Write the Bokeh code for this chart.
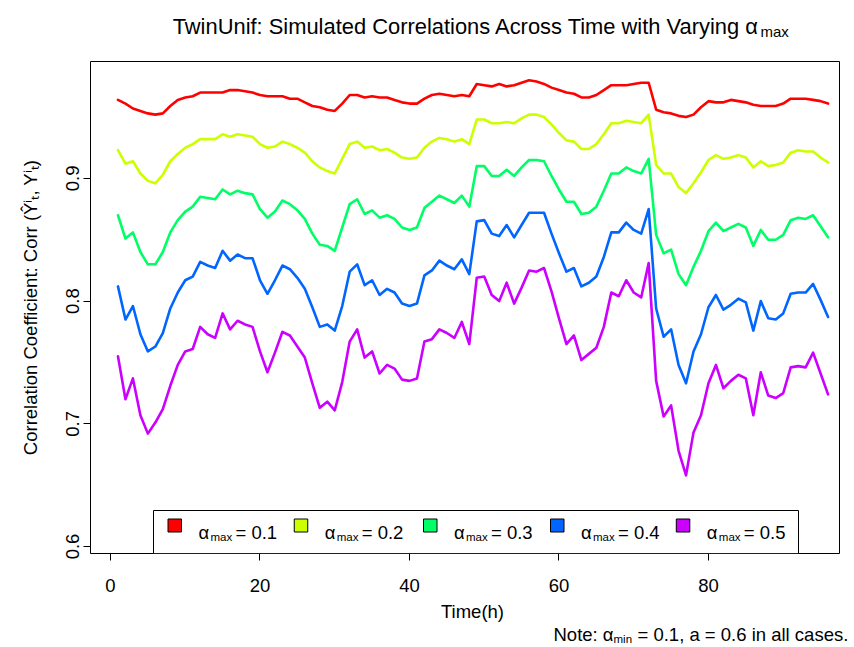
import math
from bokeh.plotting import figure
from bokeh.layouts import column, row
from bokeh.models import Range1d, FixedTicker, Label, BoxAnnotation, ColumnDataSource
from bokeh.embed import file_html
from bokeh.resources import INLINE

# ---------------- data ----------------
hours = list(range(1, 97))

corr_a01 = [0.964, 0.961, 0.957, 0.955, 0.953, 0.952, 0.953, 0.959, 0.964, 0.966,
            0.967, 0.970, 0.970, 0.970, 0.970, 0.972, 0.972, 0.971, 0.970, 0.968,
            0.967, 0.967, 0.967, 0.965, 0.965, 0.962, 0.959, 0.958, 0.956, 0.955,
            0.961, 0.968, 0.968, 0.966, 0.967, 0.966, 0.966, 0.964, 0.962, 0.961,
            0.961, 0.965, 0.968, 0.969, 0.968, 0.967, 0.968, 0.967, 0.977, 0.976,
            0.975, 0.977, 0.975, 0.976, 0.978, 0.980, 0.979, 0.977, 0.974, 0.972,
            0.970, 0.969, 0.966, 0.966, 0.968, 0.972, 0.976, 0.976, 0.976, 0.977,
            0.978, 0.978, 0.956, 0.954, 0.953, 0.951, 0.950, 0.952, 0.958, 0.963,
            0.962, 0.962, 0.964, 0.963, 0.962, 0.960, 0.959, 0.959, 0.959, 0.961,
            0.965, 0.965, 0.965, 0.964, 0.963, 0.961]

corr_a02 = [0.923, 0.912, 0.914, 0.904, 0.898, 0.896, 0.903, 0.914, 0.920, 0.925,
            0.928, 0.932, 0.932, 0.932, 0.936, 0.934, 0.936, 0.935, 0.934, 0.928,
            0.925, 0.926, 0.930, 0.928, 0.925, 0.921, 0.914, 0.909, 0.906, 0.904,
            0.916, 0.928, 0.930, 0.925, 0.926, 0.923, 0.924, 0.921, 0.917, 0.916,
            0.917, 0.925, 0.930, 0.933, 0.932, 0.930, 0.932, 0.928, 0.948, 0.948,
            0.945, 0.945, 0.946, 0.945, 0.949, 0.952, 0.952, 0.950, 0.944, 0.937,
            0.931, 0.930, 0.924, 0.924, 0.928, 0.936, 0.945, 0.945, 0.947, 0.946,
            0.945, 0.952, 0.911, 0.904, 0.904, 0.893, 0.888, 0.896, 0.905, 0.915,
            0.919, 0.916, 0.917, 0.919, 0.917, 0.909, 0.914, 0.910, 0.911, 0.913,
            0.921, 0.923, 0.922, 0.922, 0.917, 0.913]

corr_a03 = [0.870, 0.851, 0.856, 0.840, 0.830, 0.830, 0.840, 0.856, 0.866, 0.873,
            0.877, 0.885, 0.884, 0.883, 0.891, 0.887, 0.890, 0.888, 0.887, 0.875,
            0.868, 0.873, 0.882, 0.879, 0.874, 0.867, 0.855, 0.846, 0.845, 0.841,
            0.860, 0.879, 0.883, 0.871, 0.874, 0.868, 0.870, 0.867, 0.860, 0.858,
            0.860, 0.876, 0.881, 0.886, 0.883, 0.880, 0.886, 0.877, 0.910, 0.910,
            0.902, 0.902, 0.907, 0.902, 0.909, 0.915, 0.915, 0.914, 0.902, 0.891,
            0.881, 0.881, 0.871, 0.872, 0.877, 0.890, 0.904, 0.904, 0.909, 0.906,
            0.904, 0.916, 0.854, 0.839, 0.842, 0.822, 0.813, 0.828, 0.841, 0.857,
            0.864, 0.857, 0.860, 0.863, 0.860, 0.845, 0.858, 0.850, 0.850, 0.854,
            0.866, 0.868, 0.867, 0.870, 0.861, 0.852]

corr_a04 = [0.812, 0.785, 0.796, 0.773, 0.759, 0.763, 0.774, 0.794, 0.807, 0.817,
            0.820, 0.832, 0.829, 0.827, 0.841, 0.833, 0.838, 0.835, 0.835, 0.817,
            0.806, 0.817, 0.829, 0.826, 0.819, 0.810, 0.795, 0.779, 0.781, 0.776,
            0.796, 0.824, 0.830, 0.813, 0.817, 0.805, 0.810, 0.807, 0.798, 0.796,
            0.798, 0.821, 0.825, 0.833, 0.829, 0.826, 0.834, 0.822, 0.865, 0.866,
            0.855, 0.853, 0.862, 0.852, 0.862, 0.872, 0.872, 0.872, 0.855, 0.839,
            0.824, 0.827, 0.812, 0.815, 0.820, 0.836, 0.856, 0.856, 0.864, 0.858,
            0.855, 0.875, 0.794, 0.771, 0.777, 0.748, 0.733, 0.759, 0.773, 0.795,
            0.805, 0.793, 0.797, 0.802, 0.799, 0.776, 0.800, 0.786, 0.785, 0.790,
            0.806, 0.807, 0.807, 0.814, 0.801, 0.787]

corr_a05 = [0.755, 0.720, 0.737, 0.707, 0.692, 0.701, 0.712, 0.731, 0.748, 0.759,
            0.761, 0.779, 0.773, 0.770, 0.790, 0.777, 0.784, 0.781, 0.779, 0.759,
            0.742, 0.758, 0.775, 0.772, 0.763, 0.754, 0.733, 0.713, 0.718, 0.711,
            0.734, 0.767, 0.777, 0.754, 0.759, 0.741, 0.748, 0.745, 0.736, 0.735,
            0.737, 0.767, 0.769, 0.777, 0.774, 0.770, 0.783, 0.765, 0.819, 0.820,
            0.805, 0.800, 0.815, 0.798, 0.811, 0.825, 0.824, 0.827, 0.808, 0.786,
            0.765, 0.772, 0.752, 0.757, 0.762, 0.779, 0.807, 0.804, 0.817, 0.807,
            0.803, 0.831, 0.735, 0.706, 0.715, 0.678, 0.658, 0.693, 0.707, 0.733,
            0.748, 0.729, 0.735, 0.740, 0.737, 0.707, 0.742, 0.723, 0.721, 0.725,
            0.746, 0.747, 0.746, 0.758, 0.741, 0.724]

alpha_max_labels = ["0.1", "0.2", "0.3", "0.4", "0.5"]
series_colors = ["#FF0000", "#CCFF00", "#00FF66", "#0066FF", "#CC00FF"]
x_ticks = [0, 20, 40, 60, 80]
y_ticks = [0.6, 0.7, 0.8, 0.9]

# ---------------- layout (pixels of the whole 854x647 page) ----------------
W, H = 854, 647
TOP_H = 45            # title strip height
MAIN_BOTTOM = 600     # bottom of the main figure
FL, FR, FT, FB = 90, 839, 61, 553          # plot frame edges (page pixels)
X0, X1 = -2.676, 97.53
Y0, Y1 = 0.5943, 0.9953
FONT = "Liberation Sans"
FS = "18.5px"


def dx(px):
    return X0 + (px - FL) * (X1 - X0) / (FR - FL)


def dy(py):
    return Y0 + (FB - py) * (Y1 - Y0) / (FB - FT)


def strip(w, h):
    f = figure(width=w, height=h, output_backend="svg", toolbar_location=None, tools="",
               x_range=Range1d(0, w), y_range=Range1d(h, 0),
               x_axis_location=None, y_axis_location=None, min_border=0,
               background_fill_color="white", border_fill_color="white")
    f.title.visible = False
    f.outline_line_color = None
    for g in f.grid:
        g.visible = False
    return f


def lab(fig, x, y, text, size=FS, align="left"):
    fig.add_layout(Label(x=x, y=y, text=text, text_font=FONT,
                         text_font_size=size, text_color="black",
                         text_align=align, text_baseline="alphabetic"))


# ---- main figure ----
p = figure(width=W, height=MAIN_BOTTOM - TOP_H, output_backend="svg",
           toolbar_location=None, tools="",
           x_range=Range1d(X0, X1), y_range=Range1d(Y0, Y1),
           min_border_left=FL, min_border_right=W - FR,
           min_border_top=FT - TOP_H, min_border_bottom=MAIN_BOTTOM - FB,
           background_fill_color="white", border_fill_color="white")
p.title.visible = False
p.grid.visible = False
p.outline_line_color = "black"
p.outline_line_width = 1
p.outline_line_alpha = 1

for ax in (p.xaxis[0], p.yaxis[0]):
    ax.axis_line_color = None
    ax.major_tick_in = 0
    ax.major_tick_out = 7
    ax.major_tick_line_color = "black"
    ax.minor_tick_line_color = None
    ax.major_label_text_font = FONT
    ax.major_label_text_font_size = FS
    ax.major_label_text_color = "black"

p.xaxis.ticker = FixedTicker(ticks=x_ticks)
p.yaxis.ticker = FixedTicker(ticks=y_ticks)
p.xaxis.major_label_standoff = 18
p.yaxis.major_label_standoff = 4
p.yaxis.major_label_orientation = "vertical"
p.yaxis.axis_label = "Correlation Coefficient: Corr (\u0176\u2071\u209c, Y\u2071\u209c)"
p.yaxis.axis_label_text_font = FONT
p.yaxis.axis_label_text_font_size = FS
p.yaxis.axis_label_text_font_style = "normal"
p.yaxis.axis_label_text_color = "black"
p.yaxis.axis_label_standoff = 23

series = [corr_a01, corr_a02, corr_a03, corr_a04, corr_a05]
for vals, col in zip(series, series_colors):
    src = ColumnDataSource(dict(t=hours, r=vals))
    p.line("t", "r", source=src, line_color=col, line_width=2.6,
           line_join="round", line_cap="round")

# legend (inside the frame, drawn by hand like R's legend("bottom", horiz=TRUE))
p.add_layout(BoxAnnotation(left=dx(153), right=dx(798), top=dy(510), bottom=dy(FB),
                           fill_color="white", fill_alpha=1.0,
                           line_color="black", line_alpha=1.0, line_width=1))
sw_left = [167.5, 293.75, 423, 550, 675.8]
for sl, col, txt in zip(sw_left, series_colors, alpha_max_labels):
    p.add_layout(BoxAnnotation(left=dx(sl), right=dx(sl + 13.5),
                               top=dy(518.5), bottom=dy(531.5),
                               fill_color=col, fill_alpha=1.0,
                               line_color="black", line_alpha=1.0, line_width=1))
    a0 = sl + 30.5
    lab(p, dx(a0), dy(532), "\u03b1")
    lab(p, dx(a0 + 12), dy(536), "max", size="11.5px")
    lab(p, dx(a0 + 37), dy(532), "= " + txt)

# ---- title strip ----
t_fig = strip(W, TOP_H)
lab(t_fig, 759, 26, "TwinUnif: Simulated Correlations Across Time with Varying \u03b1",
    size="21.9px", align="right")
lab(t_fig, 760, 31, "max", size="15px")

# ---- bottom strip: x-axis title and note ----
n_fig = strip(W, H - MAIN_BOTTOM)
lab(n_fig, 472, 611 - MAIN_BOTTOM, "Time(h)", align="center")
lab(n_fig, 553, 634 - MAIN_BOTTOM, "Note: \u03b1")
lab(n_fig, 613, 638 - MAIN_BOTTOM, "min", size="11.5px")
lab(n_fig, 637, 634 - MAIN_BOTTOM, "= 0.1, a = 0.6 in all cases.")

# the main plot sits in its own row so that the strips keep full-width frames
page = column(t_fig, row(p, spacing=0), n_fig, spacing=0)
open("out.html", "w").write(file_html(page, INLINE))
